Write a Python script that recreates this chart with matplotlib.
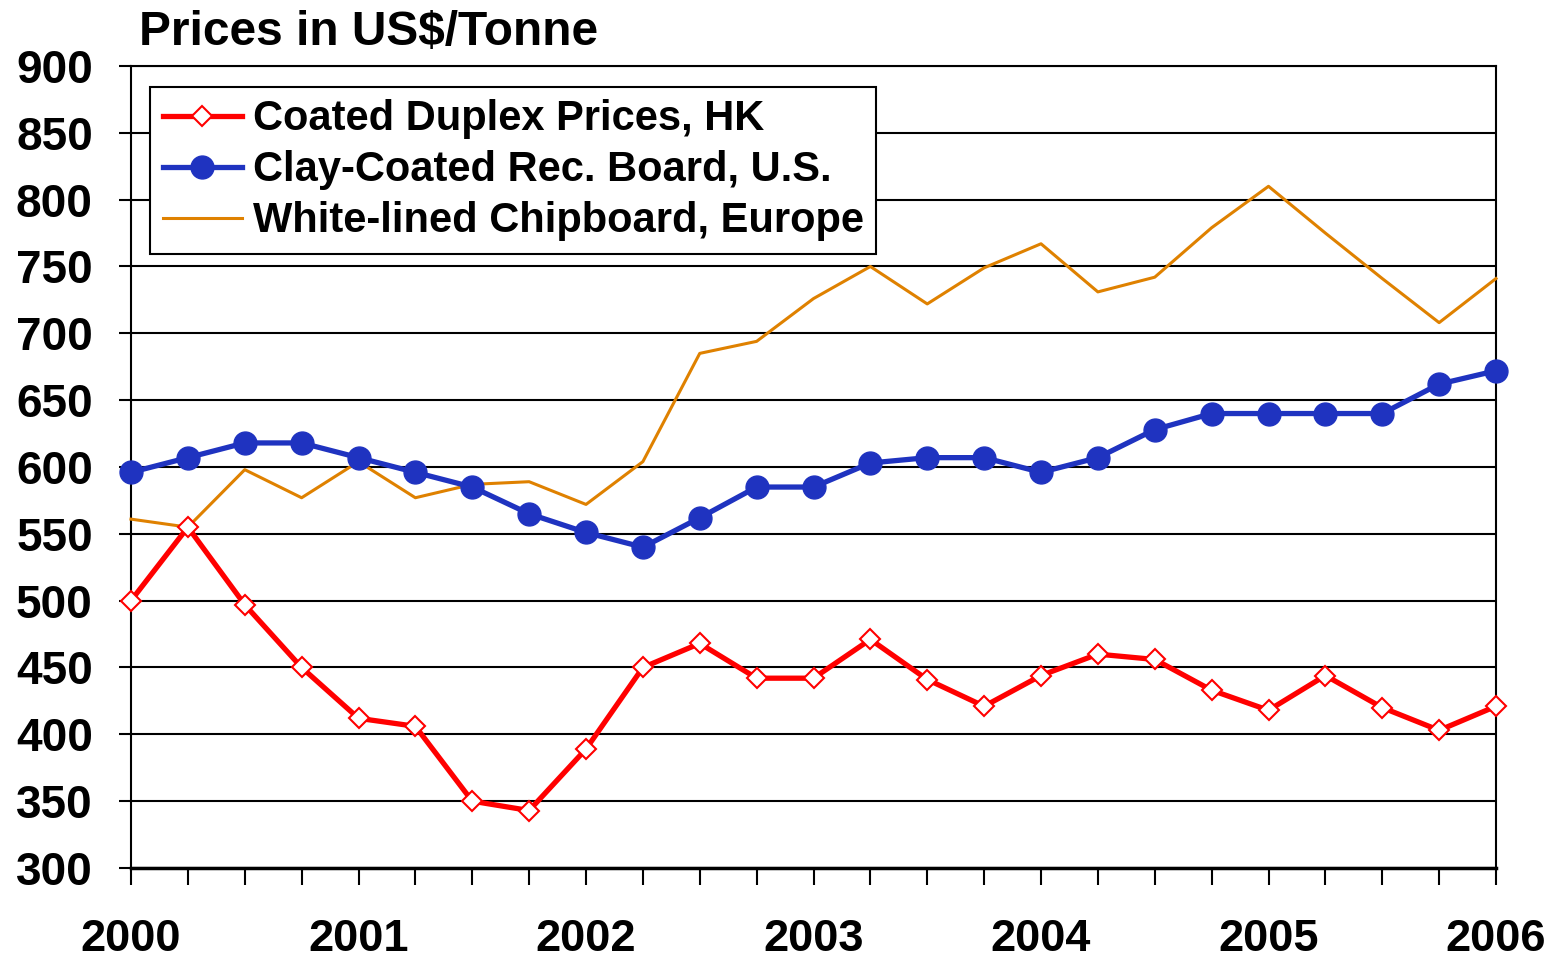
import matplotlib
matplotlib.use("Agg")
import matplotlib.pyplot as plt
import numpy as np

# Data (quarterly, 2000 to 2006)
x_years = [2000 + 0.25 * i for i in range(25)]
coated_duplex_hk = [500, 555, 497, 450, 412, 406, 350, 343, 389, 450, 468, 442, 442,
                    471, 441, 421, 444, 460, 456, 433, 418, 444, 420, 403, 421]
clay_coated_us = [596, 607, 618, 618, 607, 596, 585, 565, 551, 540, 562, 585, 585,
                  603, 607, 607, 596, 607, 628, 640, 640, 640, 640, 662, 672]
white_lined_eu = [561, 555, 598, 577, 604, 577, 587, 589, 572, 604, 685, 694, 726,
                  750, 722, 749, 767, 731, 742, 779, 810, 775, 741, 708, 741]
year_labels = ["2000", "2001", "2002", "2003", "2004", "2005", "2006"]
y_ticks = list(range(300, 901, 50))

plt.rcParams['font.family'] = ['Liberation Sans', 'DejaVu Sans']
plt.rcParams['font.weight'] = 'bold'

fig = plt.figure(figsize=(15.55, 9.63), dpi=100)
ax = fig.add_axes([131/1555, 1-868/963, (1496-131)/1555, (868-66)/963])

ax.plot(x_years, coated_duplex_hk, color='#FF0000', lw=3.8, marker='D', ms=10.5,
        mfc='white', mec='#FF0000', mew=1.5, label='Coated Duplex Prices, HK',
        clip_on=False, zorder=5)
ax.plot(x_years, clay_coated_us, color='#1F33C0', lw=3.8, marker='o', ms=16.5,
        mfc='#1F33C0', mec='#1F33C0', label='Clay-Coated Rec. Board, U.S.',
        clip_on=False, zorder=4)
ax.plot(x_years, white_lined_eu, color='#DF8100', lw=2.2,
        label='White-lined Chipboard, Europe', clip_on=False, zorder=3)

ax.set_xlim(2000, 2006)
ax.set_ylim(300, 900)
ax.set_yticks(y_ticks)
ax.set_yticklabels([str(v) for v in y_ticks])
ax.set_xticks([2000 + 0.25 * i for i in range(25)])
ax.set_xticklabels([year_labels[i // 4] if i % 4 == 0 else '' for i in range(25)])

ax.yaxis.grid(True, color='black', lw=1.5)
ax.set_axisbelow(True)
ax.tick_params(axis='y', direction='out', length=9, width=1.5, pad=18.5, labelsize=33)
ax.tick_params(axis='x', direction='out', length=12, width=1.5, pad=25, labelsize=32.5)
for lab in ax.get_xticklabels() + ax.get_yticklabels():
    lab.set_fontweight('bold')
for s in ['left', 'top', 'right']:
    ax.spines[s].set_linewidth(1.5)
ax.spines['bottom'].set_linewidth(2.5)

leg = ax.legend(loc='upper left', bbox_to_anchor=(19/1365, 1-21/802), fontsize=30,
                frameon=True, fancybox=False, framealpha=1, edgecolor='black',
                handlelength=1.9, handletextpad=0.27, borderpad=0.3, labelspacing=0.26,
                borderaxespad=0)
leg.get_frame().set_linewidth(1.5)
for t in leg.get_texts():
    t.set_fontweight('bold')

fig.text(139/1555, 1-45/963, 'Prices in US$/Tonne', fontsize=34.5, fontweight='bold',
         ha='left', va='baseline')

fig.savefig('out.png', dpi=100)
